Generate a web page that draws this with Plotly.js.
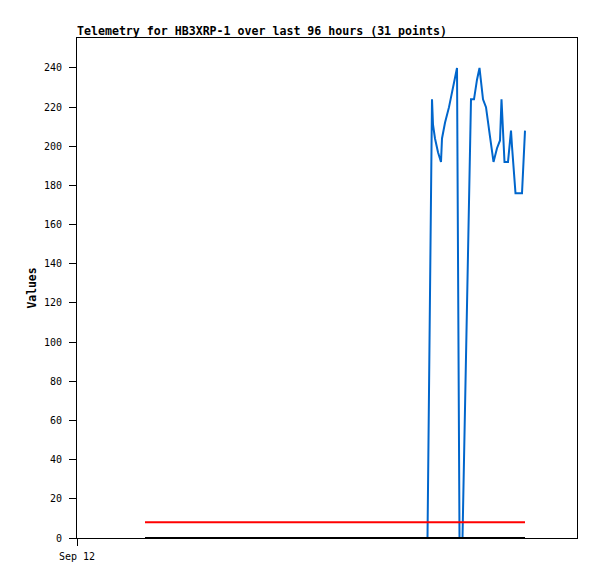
<!DOCTYPE html>
<html>
<head>
<meta charset="utf-8">
<script src="https://cdn.plot.ly/plotly-3.0.1.min.js"></script>
<style>html,body{margin:0;padding:0;background:#fff;}#chart{width:597px;height:579px;}</style>
</head>
<body>
<div id="chart"></div>
<script>
// Time axis: minutes since Sep 12 00:00
const telemetryMinutes = [701, 710, 712, 716, 722, 728, 730, 736, 744, 752, 760, 765, 771, 788, 794, 800, 805, 812, 818, 826, 833, 840, 846, 849, 855, 862, 868, 870, 877, 890, 896];
const telemetryValues  = [0, 224, 211, 204, 197, 192, 204, 212, 220, 230, 240, 0, 0, 224, 224, 234, 240, 224, 220, 205, 192, 199, 203, 224, 192, 192, 208, 200, 176, 176, 208];
const refMinutes = [136, 896];
const redLevel = [8, 8];
const blackLevel = [0, 0];
const xTickVals = [0];
const xTickText = ["Sep 12"];
const yTickVals = [0, 20, 40, 60, 80, 100, 120, 140, 160, 180, 200, 220, 240];

const mono = "DejaVu Sans Mono, Liberation Mono, monospace";

const traces = [
  {x: telemetryMinutes, y: telemetryValues, type: "scatter", mode: "lines",
   line: {color: "#0066cc", width: 2}, name: "value"},
  {x: refMinutes, y: redLevel, type: "scatter", mode: "lines",
   line: {color: "#ff0000", width: 2}, name: "red"},
  {x: refMinutes, y: blackLevel, type: "scatter", mode: "lines",
   line: {color: "#000000", width: 2}, name: "black"}
];

const layout = {
  width: 597, height: 579,
  margin: {l: 77, r: 20, t: 38, b: 41},
  paper_bgcolor: "#ffffff", plot_bgcolor: "#ffffff",
  showlegend: false,
  title: {text: "<b>Telemetry for HB3XRP-1 over last 96 hours (31 points)</b>",
          font: {family: mono, size: 11.6, color: "#000"},
          x: 0, xanchor: "left", xref: "paper", y: 1, yref: "container", yanchor: "top", pad: {t: 27}},
  xaxis: {range: [0, 1000], showgrid: false, zeroline: false,
          showline: true, mirror: true, linecolor: "#000", linewidth: 1,
          ticks: "outside", ticklen: 7, tickcolor: "#000",
          tickvals: xTickVals, ticktext: xTickText, ticklabelstandoff: 2,
          tickfont: {family: mono, size: 10, color: "#000"}},
  yaxis: {range: [0, 255.3], showgrid: false, zeroline: false,
          showline: true, mirror: true, linecolor: "#000", linewidth: 1,
          ticks: "outside", ticklen: 7, tickcolor: "#000",
          tickvals: yTickVals, ticklabelstandoff: 5,
          tickfont: {family: mono, size: 10, color: "#000"},
          title: {text: "<b>Values</b>", font: {family: mono, size: 11.4, color: "#000"}, standoff: 4}}
};

Plotly.newPlot("chart", traces, layout, {staticPlot: true, displayModeBar: false});
</script>
</body>
</html>
